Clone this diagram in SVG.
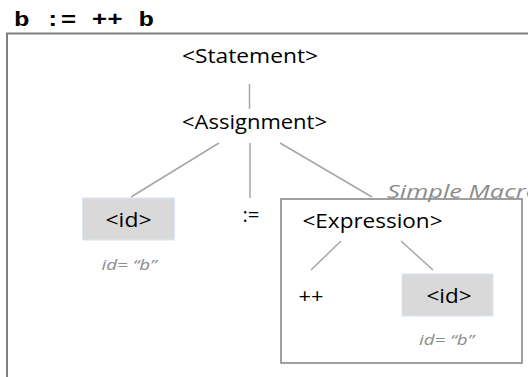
<svg xmlns="http://www.w3.org/2000/svg" width="528" height="377" viewBox="0 0 528 377">
<style>
.lbl{font-family:"Open Sans","Noto Sans","Liberation Sans",sans-serif;font-size:19.5px;fill:#000;text-anchor:middle}
.note{font-family:"Open Sans","Noto Sans","Liberation Sans",sans-serif;font-size:14px;font-style:italic;fill:#8c8c8c;text-anchor:middle}
.macro{font-family:"Open Sans","Noto Sans","Liberation Sans",sans-serif;font-size:19px;font-style:italic;fill:#8c8c8c}
.title{font-family:"Liberation Mono","Courier New",monospace;font-size:21px;font-weight:bold;fill:#000}
.conn{stroke:#a6a6a6;stroke-width:1.5;fill:none}
.frame{stroke:#808080;fill:none}
.idbox{fill:#d9d9d9;stroke:#dce6f2;stroke-width:1}
</style>
<rect width="528" height="377" fill="#fff"/>
<text class="title" x="14" y="26" textLength="140" lengthAdjust="spacingAndGlyphs">b := ++ b</text>
<rect class="frame" x="7" y="33.5" width="560" height="380" stroke-width="2"/>
<g id="connectors">
<line class="conn" x1="249.5" y1="84" x2="249.5" y2="109"/>
<line class="conn" x1="219" y1="143" x2="131" y2="197"/>
<line class="conn" x1="250" y1="143" x2="250" y2="198"/>
<line class="conn" x1="280" y1="143" x2="372" y2="197"/>
<line class="conn" x1="341" y1="241" x2="311" y2="270"/>
<line class="conn" x1="401" y1="241" x2="433" y2="270"/>
</g>
<g id="macro">
<rect class="frame" x="281" y="199" width="241" height="164" stroke-width="1.5"/>
<text class="macro" x="387" y="198" textLength="153" lengthAdjust="spacingAndGlyphs">Simple Macro</text>
</g>
<g id="statement">
<text class="lbl" x="250" y="63" textLength="136" lengthAdjust="spacingAndGlyphs">&lt;Statement&gt;</text>
</g>
<g id="assignment">
<text class="lbl" x="254.5" y="129" textLength="145" lengthAdjust="spacingAndGlyphs">&lt;Assignment&gt;</text>
</g>
<g id="id-left">
<rect class="idbox" x="82.5" y="198" width="92" height="42"/>
<text class="lbl" x="128.5" y="227" textLength="46" lengthAdjust="spacingAndGlyphs">&lt;id&gt;</text>
<text class="note" x="129" y="270" textLength="55" lengthAdjust="spacingAndGlyphs">id= “b”</text>
</g>
<g id="assign-op">
<text class="lbl" x="251" y="222" textLength="17" lengthAdjust="spacingAndGlyphs">:=</text>
</g>
<g id="expression">
<text class="lbl" x="372.5" y="228" textLength="140" lengthAdjust="spacingAndGlyphs">&lt;Expression&gt;</text>
</g>
<g id="plusplus">
<text class="lbl" x="311" y="303" textLength="25" lengthAdjust="spacingAndGlyphs">++</text>
</g>
<g id="id-right">
<rect class="idbox" x="402" y="274" width="91" height="42"/>
<text class="lbl" x="449" y="303" textLength="45" lengthAdjust="spacingAndGlyphs">&lt;id&gt;</text>
<text class="note" x="446.5" y="345" textLength="55" lengthAdjust="spacingAndGlyphs">id= “b”</text>
</g>
</svg>
